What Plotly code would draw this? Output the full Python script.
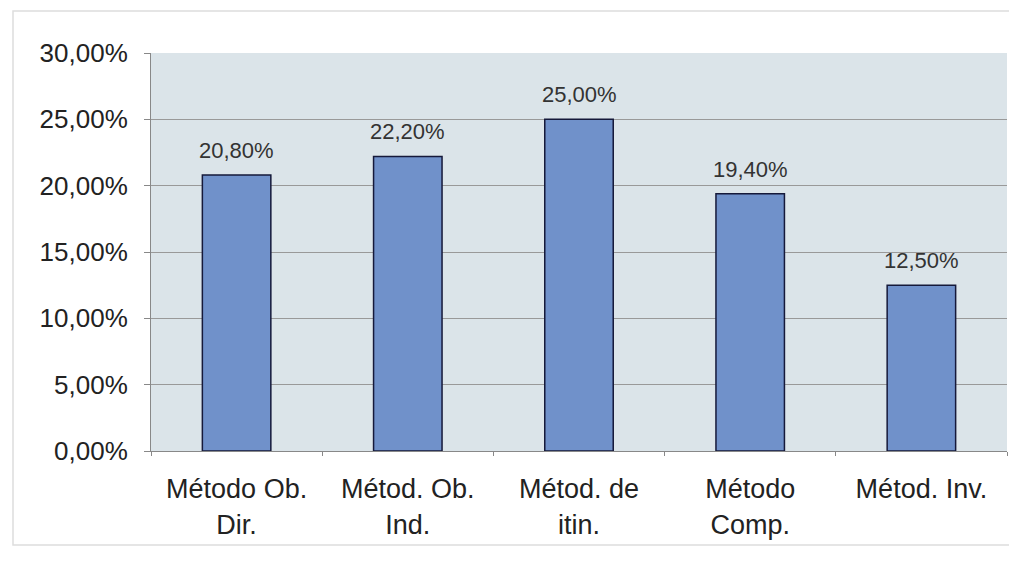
import plotly.graph_objects as go

categories = ['Método Ob.<br>Dir.', 'Métod. Ob.<br>Ind.', 'Métod. de<br>itin.',
              'Método<br>Comp.', 'Métod. Inv.']
values = [0.208, 0.222, 0.25, 0.194, 0.125]

bar_color = '#7091ca'
edge_color = '#15193a'
plot_bg = '#dbe4e9'

fig = go.Figure(data=go.Bar(
    x=categories,
    y=values,
    width=0.4,
    marker=dict(color=bar_color, line=dict(color=edge_color, width=1.5)),
))

# value labels sit a little above each bar
for cat, val in zip(categories, values):
    fig.add_annotation(
        x=cat, y=val, text=f'{val * 100:.2f}%'.replace('.', ','),
        showarrow=False, yanchor='bottom', yshift=10,
        font=dict(size=22, color='#333333'),
    )

fig.update_layout(
    width=1009, height=556,
    paper_bgcolor='white',
    plot_bgcolor=plot_bg,
    separators=',.',
    margin=dict(l=143, r=10, t=45, b=113),
    font=dict(family='Liberation Sans, Arial, sans-serif', color='#222222'),
    showlegend=False,
    xaxis=dict(
        tickfont=dict(size=27),
        ticks='outside', tickson='boundaries', ticklen=4, tickcolor='#888888',
        ticklabelstandoff=14,
        showline=True, linecolor='#888888', linewidth=1,
    ),
    yaxis=dict(
        range=[0, 0.30],
        dtick=0.05,
        tickformat='.2%',
        tickfont=dict(size=26),
        ticks='outside', ticklen=6, tickcolor='#888888',
        ticklabelstandoff=11,
        showgrid=True, gridcolor='#999999', gridwidth=1,
        showline=True, linecolor='#888888', linewidth=1,
        zeroline=False,
    ),
    shapes=[dict(
        type='rect', xref='paper', yref='paper',
        x0=(13 - 151) / 856, x1=(1011 - 151) / 856,
        y0=-(545 - 451) / 398, y1=(451 - 11) / 398,
        line=dict(color='#dddddd', width=1.5),
        layer='below',
    )],
)

fig.write_html("out.html")
